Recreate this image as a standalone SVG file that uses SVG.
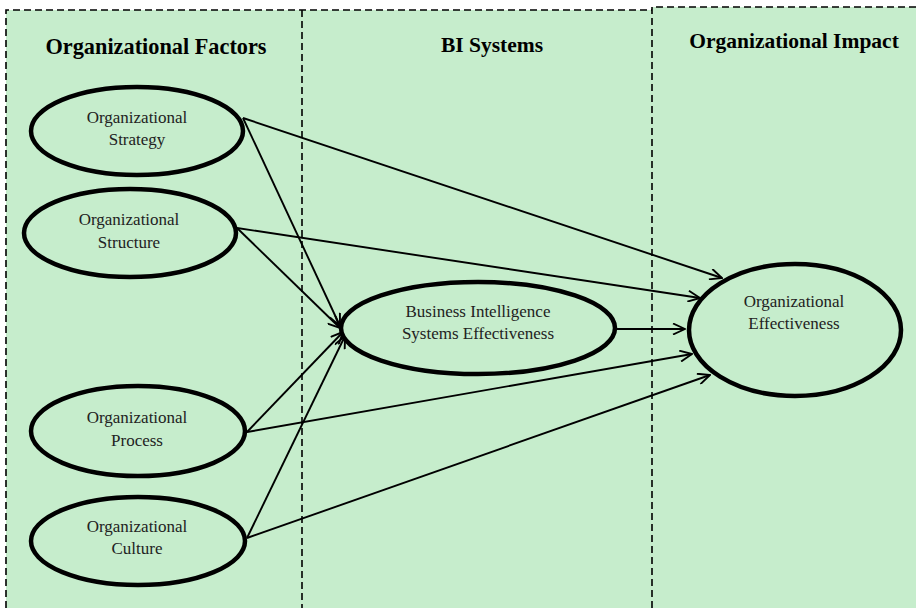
<svg xmlns="http://www.w3.org/2000/svg" width="916" height="608" viewBox="0 0 916 608">
<defs>
<style>
.panel{fill:#c6edcc;stroke:none}
.dash{fill:none;stroke:#000;stroke-width:1.6;stroke-dasharray:7,4}
.node{fill:#c6edcc;stroke:#000;stroke-width:4.5}
.lbl{font-size:17px;fill:#222;text-anchor:middle}
.hdr{font-size:21.5px;font-weight:bold;fill:#000;text-anchor:middle}
.conn line{stroke:#000;stroke-width:1.9;marker-end:url(#arr)}
</style>
<marker id="arr" viewBox="0 0 14 12" refX="13" refY="6" markerWidth="14" markerHeight="12" markerUnits="userSpaceOnUse" orient="auto">
<polyline points="1,0.5 13,6 1,11.5" fill="none" stroke="#000" stroke-width="1.9"/>
</marker>
</defs>
<g font-family="Liberation Serif, DejaVu Serif, serif">
<g id="panels">
<rect class="panel" x="6" y="10" width="646" height="598"/>
<rect class="panel" x="652" y="7" width="264" height="601"/>
<path class="dash" d="M6,608 V10 H652"/>
<path class="dash" d="M302,10 V608"/>
<path class="dash" d="M652,608 V7 H916"/>
<text class="hdr" x="156" y="54" style="font-size:22.3px">Organizational Factors</text>
<text class="hdr" x="492" y="52">BI Systems</text>
<text class="hdr" x="794" y="48">Organizational Impact</text>
</g>
<g id="connectors" class="conn">
<line x1="243" y1="118" x2="722" y2="278"/>
<line x1="243" y1="118" x2="340" y2="326"/>
<line x1="237" y1="228" x2="700" y2="298"/>
<line x1="237" y1="228" x2="340" y2="328"/>
<line x1="247" y1="432" x2="343" y2="332"/>
<line x1="247" y1="432" x2="692" y2="354"/>
<line x1="247" y1="538" x2="345" y2="336"/>
<line x1="247" y1="538" x2="710" y2="375"/>
<line x1="616" y1="329" x2="685" y2="329"/>
</g>
<g id="n-strategy">
<ellipse class="node" cx="137" cy="131" rx="106" ry="44"/>
<text class="lbl" x="137" y="123">Organizational</text>
<text class="lbl" x="137" y="145">Strategy</text>
</g>
<g id="n-structure">
<ellipse class="node" cx="130" cy="233" rx="106" ry="44"/>
<text class="lbl" x="129" y="225">Organizational</text>
<text class="lbl" x="129" y="248">Structure</text>
</g>
<g id="n-process">
<ellipse class="node" cx="138" cy="431" rx="107" ry="45"/>
<text class="lbl" x="137" y="423">Organizational</text>
<text class="lbl" x="137" y="446">Process</text>
</g>
<g id="n-culture">
<ellipse class="node" cx="138" cy="541" rx="107" ry="44"/>
<text class="lbl" x="137" y="532">Organizational</text>
<text class="lbl" x="137" y="554">Culture</text>
</g>
<g id="n-bise">
<ellipse class="node" cx="478" cy="328" rx="137" ry="46"/>
<text class="lbl" x="478" y="317">Business Intelligence</text>
<text class="lbl" x="478" y="339">Systems Effectiveness</text>
</g>
<g id="n-oe">
<ellipse class="node" cx="795" cy="330" rx="106" ry="66"/>
<text class="lbl" x="794" y="307">Organizational</text>
<text class="lbl" x="794" y="329">Effectiveness</text>
</g>
</g>
</svg>
